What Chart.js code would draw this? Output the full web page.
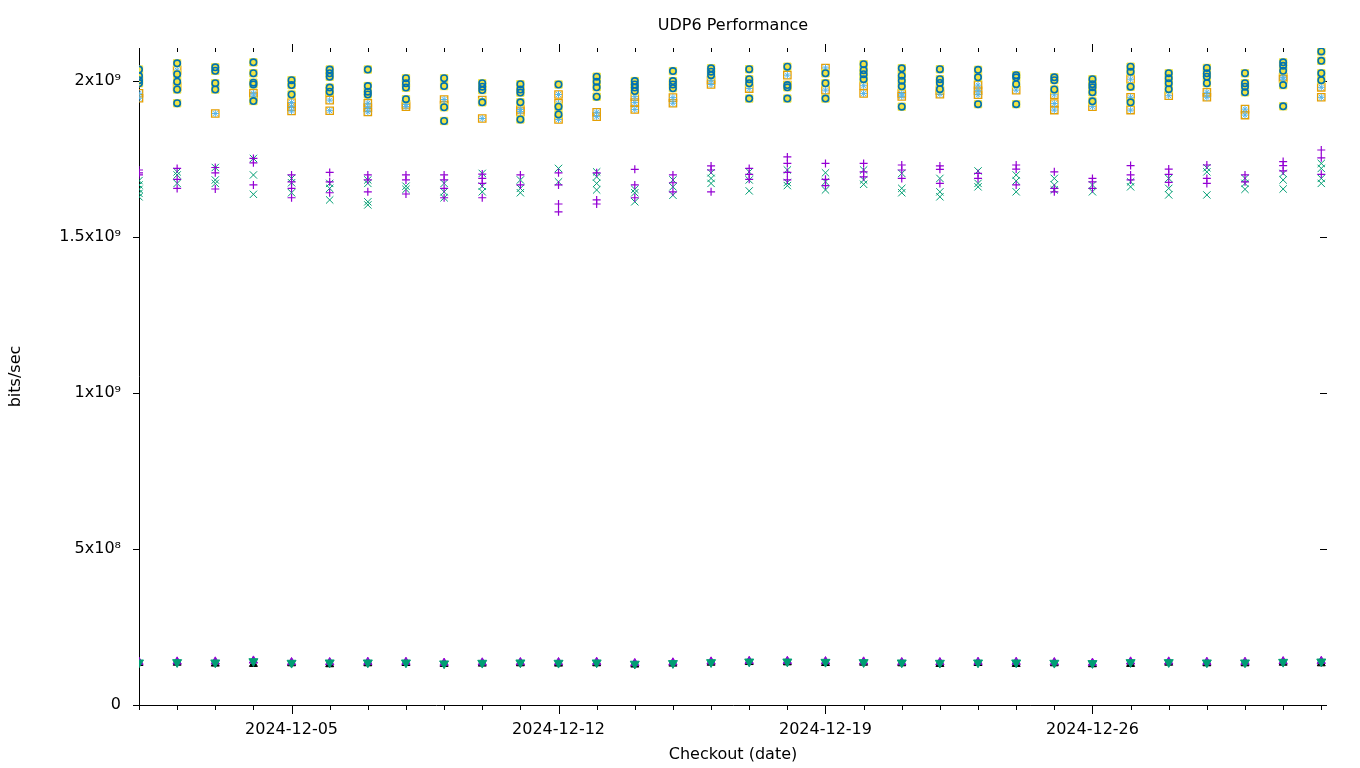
<!DOCTYPE html>
<html>
<head>
<meta charset="utf-8">
<title>UDP6 Performance</title>
<script src="https://cdn.jsdelivr.net/npm/chart.js@4.4.1/dist/chart.umd.min.js"></script>
<style>
  body { margin: 0; background: #fff; }
  canvas { display: block; }
</style>
</head>
<body>
<canvas id="perfChart" width="1360" height="768"></canvas>
<script>
// checkout dates, one column of points per day
const dates = [
    '2024-12-01', '2024-12-02', '2024-12-03', '2024-12-04', '2024-12-05', '2024-12-06', '2024-12-07', '2024-12-08',
    '2024-12-09', '2024-12-10', '2024-12-11', '2024-12-12', '2024-12-13', '2024-12-14', '2024-12-15', '2024-12-16',
    '2024-12-17', '2024-12-18', '2024-12-19', '2024-12-20', '2024-12-21', '2024-12-22', '2024-12-23', '2024-12-24',
    '2024-12-25', '2024-12-26', '2024-12-27', '2024-12-28', '2024-12-29', '2024-12-30', '2024-12-31', '2025-01-01'
];
const xTickLabels = ['2024-12-05', '2024-12-12', '2024-12-19', '2024-12-26'];
const yTickValues = [0, 5e8, 1e9, 1.5e9, 2e9];
const yTickLabels = ['0', '5x10⁸', '1x10⁹', '1.5x10⁹', '2x10⁹'];

// values in Gbit/s, one list per day
const topRunsA = [
    [2.037, 2.016, 2.003, 1.993], [2.057, 2.022, 1.998, 1.973, 1.929], [2.044, 2.033, 1.993, 1.973],
    [2.060, 2.025, 1.995, 1.989, 1.936], [2.003, 1.987, 1.957], [2.037, 2.025, 2.014, 1.979, 1.966],
    [2.037, 1.984, 1.966, 1.957], [2.009, 1.993, 1.979, 1.942], [2.009, 1.984, 1.916, 1.872],
    [1.993, 1.982, 1.971, 1.932], [1.990, 1.973, 1.963, 1.932, 1.877], [1.989, 1.918, 1.893],
    [2.014, 1.998, 1.980, 1.950], [2.000, 1.989, 1.979, 1.968], [2.032, 2.000, 1.989, 1.977],
    [2.041, 2.030, 2.019], [2.038, 2.006, 1.993, 1.944], [2.046, 1.987, 1.980, 1.944],
    [2.025, 1.993, 1.944], [2.054, 2.035, 2.022, 2.006], [2.041, 2.017, 2.001, 1.983, 1.918],
    [2.038, 2.006, 1.994, 1.974], [2.036, 2.012, 1.926], [2.019, 2.012, 1.990, 1.926],
    [2.012, 2.003, 1.973], [2.006, 1.990, 1.980, 1.964, 1.935], [2.046, 2.030, 1.982, 1.932],
    [2.025, 2.009, 1.993, 1.974], [2.042, 2.025, 2.014, 1.993], [2.025, 1.993, 1.982, 1.964],
    [2.060, 2.049, 2.033, 1.987, 1.919], [2.095, 2.065, 2.025, 2.003]
];
const topRunsB = [
    [1.961, 1.945], [2.035, 1.982], [1.896], [1.961, 1.950], [1.931, 1.918, 1.904], [1.966, 1.939, 1.905],
    [1.929, 1.915, 1.901], [1.925, 1.918], [1.941, 1.923], [1.939, 1.880], [1.909, 1.902], [1.957, 1.929, 1.877],
    [1.900, 1.886], [1.950, 1.931, 1.909], [1.947, 1.929], [2.003, 1.989], [1.976], [2.019, 1.987],
    [2.042, 1.971], [1.985, 1.960], [1.960, 1.951], [1.969, 1.958], [1.987, 1.969, 1.956], [1.971],
    [1.956, 1.928, 1.907], [1.918], [2.006, 1.948, 1.907], [1.953], [1.964, 1.948], [1.910, 1.891],
    [2.012, 2.006], [1.980, 1.948]
];
const midPlus = [
    [1.715, 1.706, 1.699], [1.720, 1.685, 1.656], [1.723, 1.706, 1.654], [1.752, 1.738, 1.667],
    [1.699, 1.677, 1.656, 1.626], [1.707, 1.677, 1.642], [1.699, 1.683, 1.645], [1.699, 1.683, 1.638],
    [1.699, 1.683, 1.656, 1.626], [1.702, 1.688, 1.672, 1.626], [1.699, 1.667], [1.706, 1.667, 1.606, 1.581],
    [1.706, 1.619, 1.606], [1.717, 1.667, 1.626], [1.699, 1.674, 1.645], [1.728, 1.715, 1.645],
    [1.720, 1.701, 1.685], [1.757, 1.736, 1.707, 1.683], [1.736, 1.685, 1.665], [1.736, 1.709, 1.693],
    [1.731, 1.715, 1.688], [1.728, 1.717, 1.672], [1.704, 1.688], [1.731, 1.718, 1.667],
    [1.709, 1.656, 1.645], [1.688, 1.677, 1.656], [1.729, 1.699, 1.683], [1.718, 1.701, 1.675],
    [1.731, 1.688, 1.672], [1.699, 1.677], [1.742, 1.729, 1.712], [1.779, 1.754, 1.701]
];
const midCross = [
    [1.681, 1.667, 1.653, 1.640, 1.629], [1.709, 1.699, 1.672], [1.723, 1.683, 1.672], [1.752, 1.699, 1.637],
    [1.688, 1.674, 1.642], [1.672, 1.656, 1.619], [1.683, 1.672, 1.613, 1.603], [1.663, 1.653],
    [1.672, 1.645, 1.626], [1.704, 1.663, 1.645], [1.683, 1.656, 1.642], [1.720, 1.677],
    [1.709, 1.693, 1.672, 1.651], [1.653, 1.642, 1.613], [1.683, 1.661, 1.634], [1.706, 1.688, 1.672],
    [1.709, 1.683, 1.648], [1.715, 1.675, 1.665], [1.706, 1.677, 1.651], [1.715, 1.683, 1.669],
    [1.704, 1.656, 1.642], [1.688, 1.645, 1.629], [1.712, 1.672, 1.661], [1.699, 1.680, 1.645],
    [1.688, 1.667, 1.651], [1.667, 1.645], [1.677, 1.661], [1.688, 1.656, 1.635],
    [1.722, 1.709, 1.635], [1.688, 1.672, 1.653], [1.704, 1.683, 1.654], [1.736, 1.720, 1.688, 1.672]
];
const lowPurple = [0.138, 0.139, 0.139, 0.142, 0.137, 0.137, 0.138, 0.138, 0.135, 0.136, 0.137, 0.137, 0.138, 0.134, 0.136, 0.139,
    0.141, 0.141, 0.140, 0.139, 0.137, 0.137, 0.138, 0.138, 0.137, 0.135, 0.139, 0.139, 0.138, 0.138, 0.140, 0.141];
const lowGreen = [0.136, 0.137, 0.136, 0.140, 0.135, 0.136, 0.136, 0.136, 0.133, 0.135, 0.136, 0.135, 0.136, 0.132, 0.134, 0.137,
    0.139, 0.139, 0.138, 0.137, 0.136, 0.135, 0.136, 0.136, 0.135, 0.134, 0.137, 0.137, 0.136, 0.136, 0.138, 0.139];
const lowBlack = [0.134, 0.135, 0.132, 0.131, 0.133, 0.130, 0.133, 0.134, 0.131, 0.132, 0.133, 0.132, 0.133, 0.129, 0.132, 0.135,
    0.137, 0.136, 0.134, 0.135, 0.133, 0.131, 0.134, 0.131, 0.133, 0.130, 0.131, 0.135, 0.133, 0.133, 0.135, 0.133];

const FONT = { family: "'DejaVu Sans', sans-serif", size: 16 };

function spread(perDay) {
    const pts = [];
    perDay.forEach((vals, i) => vals.forEach(v => pts.push({ x: i, y: v * 1e9 })));
    return pts;
}
function single(vals) {
    return vals.map((v, i) => ({ x: i, y: v * 1e9 }));
}
function marks(data, style, color, radius, extra) {
    return Object.assign({
        data: data,
        pointStyle: style,
        pointRadius: radius,
        borderColor: color,
        backgroundColor: 'rgba(0,0,0,0)',
        pointBorderWidth: 1,
        pointHoverRadius: radius
    }, extra || {});
}

// gnuplot-like frame: left/bottom axis lines, ticks outside left/bottom, mirrored inside top/right
const axisFrame = {
    id: 'axisFrame',
    beforeDatasetsDraw(chart) {
        const { ctx, chartArea: a, scales: { x, y } } = chart;
        ctx.save();
        ctx.strokeStyle = '#000';
        ctx.lineWidth = 1;
        ctx.beginPath();
        ctx.moveTo(a.left + 0.5, a.top);
        ctx.lineTo(a.left + 0.5, a.bottom + 0.5);
        ctx.lineTo(a.right, a.bottom + 0.5);
        dates.forEach((d, i) => {
            const px = Math.round(x.getPixelForValue(i)) + 0.5;
            const major = xTickLabels.includes(d);
            ctx.moveTo(px, a.bottom);
            ctx.lineTo(px, a.bottom + (major ? 9 : 5));
            ctx.moveTo(px, a.top + 4);
            ctx.lineTo(px, a.top - (major ? 4 : 0));
        });
        yTickValues.forEach(v => {
            const py = Math.round(y.getPixelForValue(v)) + 0.5;
            ctx.moveTo(a.left - 6, py);
            ctx.lineTo(a.left, py);
            if (v > 0) {
                ctx.moveTo(a.right - 7, py);
                ctx.lineTo(a.right, py);
            }
        });
        ctx.stroke();
        ctx.restore();
    }
};

const ctx = document.getElementById('perfChart').getContext('2d');
new Chart(ctx, {
    type: 'scatter',
    data: {
        datasets: [
            marks(spread(topRunsA), 'circle', '#0072b2', 3.2, { order: 1, pointBorderWidth: 1.6 }),
            marks(spread(topRunsA), 'rect', '#f0e442', 5.2, { order: 2, backgroundColor: '#f0e442' }),
            marks(spread(topRunsB), 'star', '#56b4e9', 3.5, { order: 3 }),
            marks(spread(topRunsB), 'rect', '#e69f00', 5.2, { order: 4, pointBorderWidth: 1.3 }),
            marks(spread(midPlus), 'cross', '#9400d3', 4, { order: 5, pointBorderWidth: 1.2 }),
            marks(spread(midCross), 'crossRot', '#009e73', 5.2, { order: 6 }),
            marks(single(lowGreen), 'triangle', '#009e73', 5.2, { order: 7, backgroundColor: '#009e73', rotation: 180 }),
            marks(single(lowPurple), 'triangle', '#9400d3', 4.8, { order: 8, backgroundColor: '#9400d3' }),
            marks(single(lowBlack), 'triangle', '#000000', 4.6, { order: 9, backgroundColor: '#000000' })
        ]
    },
    options: {
        responsive: false,
        animation: false,
        layout: { padding: { left: 0, right: 33, top: 0, bottom: 0 } },
        plugins: {
            legend: { display: false },
            tooltip: { enabled: false },
            title: {
                display: true,
                text: 'UDP6 Performance',
                color: '#000',
                fullSize: false,
                font: Object.assign({ weight: 'normal' }, FONT),
                padding: { top: 16.5, bottom: 12.3 }
            }
        },
        scales: {
            x: {
                type: 'linear',
                min: 0,
                max: 31.15,
                afterFit: s => { s.height = 63; },
                afterBuildTicks: s => { s.ticks = dates.map((d, i) => ({ value: i })); },
                grid: { display: false, drawTicks: false },
                border: { display: false },
                ticks: {
                    autoSkip: false,
                    maxRotation: 0,
                    padding: 15.5,
                    color: '#000',
                    font: FONT,
                    callback: (v, i) => xTickLabels.includes(dates[i]) ? dates[i] : ''
                },
                title: { display: true, text: 'Checkout (date)', color: '#000', font: FONT, padding: { top: 0, bottom: 4 } }
            },
            y: {
                min: 0,
                max: 2.106e9,
                afterFit: s => { s.width = 139; },
                afterBuildTicks: s => { s.ticks = yTickValues.map(v => ({ value: v })); },
                grid: { display: false, drawTicks: false },
                border: { display: false },
                ticks: {
                    autoSkip: false,
                    padding: 18,
                    color: '#000',
                    font: FONT,
                    callback: (v, i) => yTickLabels[i]
                },
                title: { display: true, text: 'bits/sec', color: '#000', font: FONT, padding: { top: 6, bottom: 0 } }
            }
        }
    },
    plugins: [axisFrame]
});
</script>
</body>
</html>
